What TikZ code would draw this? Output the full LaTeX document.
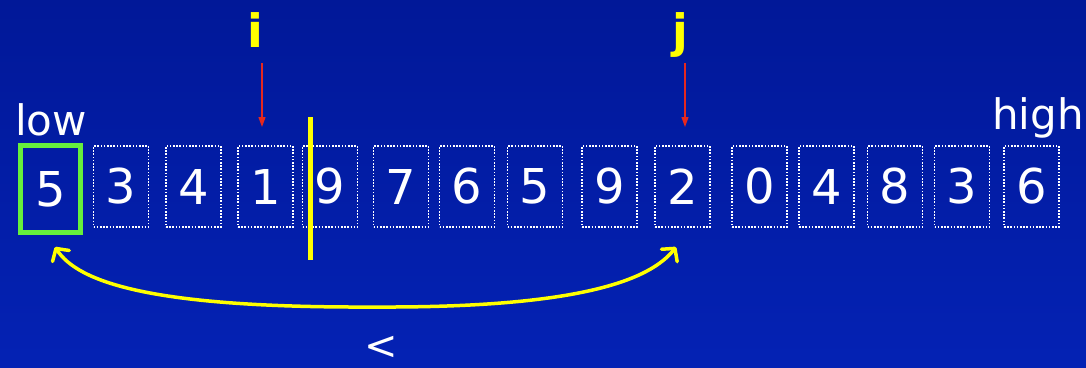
\documentclass[tikz,border=0pt]{standalone}
\usepackage{fontspec}
\setmainfont{DejaVu Sans}
\usetikzlibrary{arrows.meta}
\definecolor{bgtop}{RGB}{1,24,152}
\definecolor{bgbot}{RGB}{4,34,180}
\definecolor{boxgreen}{RGB}{102,240,60}
\definecolor{ptrred}{RGB}{230,40,30}
\definecolor{markyellow}{RGB}{255,255,0}
\tikzset{
  cell/.style={draw=white, line width=1.6pt, dash pattern=on 1.6pt off 1.6pt,
    minimum width=55pt, minimum height=81pt, inner sep=0pt, text=white,
    font=\fontsize{48}{50}\selectfont},
  pivotcell/.style={draw=boxgreen, line width=5pt,
    minimum width=60pt, minimum height=87pt, inner sep=0pt, text=white,
    font=\fontsize{48}{50}\selectfont},
  lbl/.style={text=white, inner sep=0pt, font=\fontsize{42}{44}\selectfont},
  ptr/.style={text=markyellow, inner sep=0pt, font=\bfseries\fontsize{46}{48}\selectfont},
  ptrarrow/.style={draw=ptrred, line width=1.2pt, -{Triangle[length=10pt,width=7pt]}},
  swaparrow/.style={draw=markyellow, line width=3.5pt,
    {Straight Barb[length=9pt,width=20pt,round]}-{Straight Barb[length=9pt,width=20pt,round]}}
}
\begin{document}
\begin{tikzpicture}[x=1pt,y=-1pt]
\shade[top color=bgtop, bottom color=bgbot] (0,0) rectangle (1086,367);
\useasboundingbox (0,0) rectangle (1086,367);
% cells
\node[pivotcell] (c1) at (50.5,189) {5};
\node[cell] (c2) at (121,186.5) {3};
\node[cell] (c3) at (193.5,186.5) {4};
\node[cell] (c4) at (265.5,186.5) {1};
\node[cell] (c5) at (330,186.5) {9};
\node[cell] (c6) at (401,186.5) {7};
\node[cell] (c7) at (467,186.5) {6};
\node[cell] (c8) at (535,186.5) {5};
\node[cell] (c9) at (609.5,186.5) {9};
\node[cell] (c10) at (682.5,186.5) {2};
\node[cell] (c11) at (759.5,186.5) {0};
\node[cell] (c12) at (826.5,186.5) {4};
\node[cell] (c13) at (895,186.5) {8};
\node[cell] (c14) at (962,186.5) {3};
\node[cell] (c15) at (1031.5,186.5) {6};
% labels
\node[lbl, anchor=base west] (low) at (15,135) {low};
\node[lbl, anchor=base west] (high) at (992,129) {high};
\node[ptr, anchor=base] (i) at (255,47) {i};
\node[ptr, anchor=base] (j) at (680,47) {j};
% pointer arrows
\coordinate (is) at (262,63);
\coordinate (it) at (262,127);
\coordinate (js) at (685,63);
\coordinate (jt) at (685,127);
\draw[ptrarrow] (is) -- (it);
\draw[ptrarrow] (js) -- (jt);
% partition line
\coordinate (pt) at (310,117);
\coordinate (pb) at (310,260);
\draw[draw=markyellow, line width=5pt] (pt) -- (pb);
% swap arrow
\coordinate (sl) at (55,247);
\coordinate (sr) at (676,247);
\coordinate (sm) at (374,307);
\draw[swaparrow] (sl) .. controls (78,282) and (150,308) .. (sm)
  .. controls (580,308) and (650,280) .. (sr);
\node[text=white, inner sep=0pt, font=\fontsize{40}{42}\selectfont] (lt) at (381,348) {<};
\end{tikzpicture}
\end{document}
